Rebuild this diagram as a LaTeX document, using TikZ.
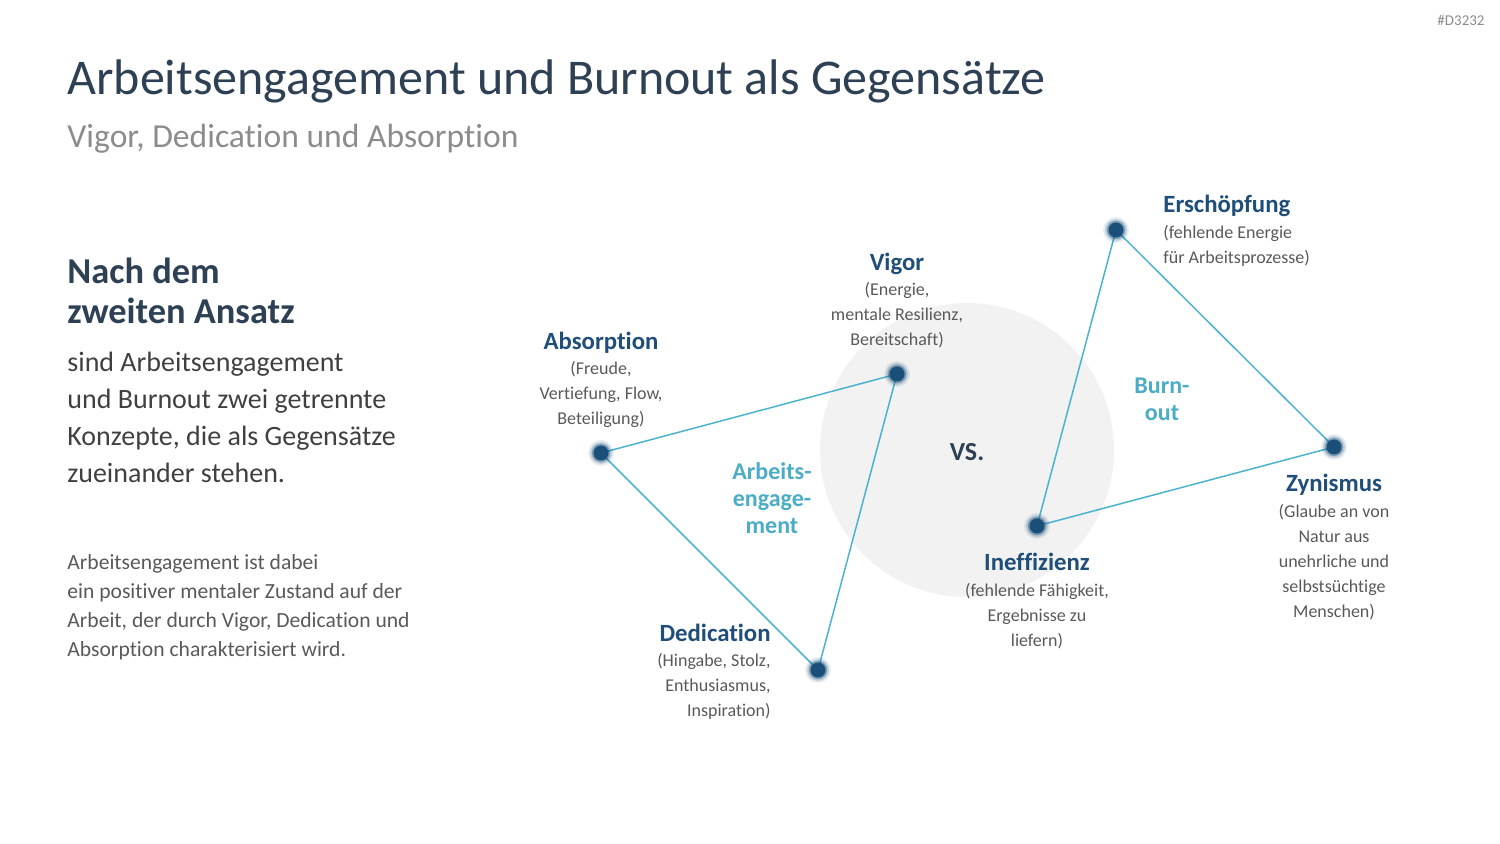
\documentclass[tikz,border=0pt]{standalone}
\usepackage{fontspec}
\setmainfont[Ligatures=NoCommon]{Carlito}
\usetikzlibrary{positioning, backgrounds}
\definecolor{titlecol}{HTML}{2E4053}
\definecolor{subcol}{HTML}{8C8C8C}
\definecolor{bodycol}{HTML}{404040}
\definecolor{smallcol}{HTML}{595959}
\definecolor{headblue}{HTML}{1F4E79}
\definecolor{descgray}{HTML}{595959}
\definecolor{accentblue}{HTML}{4BACC6}
\definecolor{linecol}{HTML}{4BB3CE}
\definecolor{dotblue}{HTML}{1A4F7A}
\definecolor{discgray}{HTML}{F2F2F2}

\begin{document}
\begin{tikzpicture}[
    x=0.5pt, y=-0.5pt,
    dot/.style={circle, fill=dotblue, minimum size=7.5pt, inner sep=0pt},
    head/.style={font=\fontsize{12.4}{14}\selectfont\bfseries, text=headblue, inner sep=0pt},
    desc/.style={font=\fontsize{9}{12.5}\selectfont, text=descgray, inner sep=0pt},
    accent/.style={font=\fontsize{12}{13.5}\selectfont\bfseries, text=accentblue, align=center, inner sep=0pt},
    link/.style={draw=linecol, line width=0.75pt}
]
\useasboundingbox (0,0) rectangle (1500,844);

% Left text
\node[anchor=center, font=\fontsize{7.5}{9}\selectfont, text=subcol] (tag) at (1461,20) {\#D3232};
\node[anchor=base west, inner sep=0pt, font=\fontsize{25}{30}\selectfont, text=titlecol] (title) at (67,95) {Arbeitsengagement und Burnout als Gegensätze};
\node[anchor=base west, inner sep=0pt, font=\fontsize{16.8}{19}\selectfont, text=subcol] (subtitle) at (67,148) {Vigor, Dedication und Absorption};
\node[anchor=north west, inner sep=0pt, align=left, font=\fontsize{18.2}{20}\selectfont\bfseries, text=titlecol] (approach) at (67,258) {Nach dem\\zweiten Ansatz};
\node[anchor=north west, inner sep=0pt, align=left, font=\fontsize{14}{18.5}\selectfont, text=bodycol] (body) at (67,352) {sind Arbeitsengagement\\und Burnout zwei getrennte\\Konzepte, die als Gegensätze\\zueinander stehen.};
\node[anchor=north west, inner sep=0pt, align=left, font=\fontsize{10.8}{14.5}\selectfont, text=smallcol] (note) at (67,554) {Arbeitsengagement ist dabei\\ein positiver mentaler Zustand auf der\\Arbeit, der durch Vigor, Dedication und\\Absorption charakterisiert wird.};

% Dots
\node[dot] (abs) at (601,453) {};
\node[dot] (vig) at (897,374) {};
\node[dot] (ded) at (818,670) {};
\node[dot] (ers) at (1116,230) {};
\node[dot] (zyn) at (1334,447) {};
\node[dot] (ine) at (1037,526) {};
\foreach \n in {abs,vig,ded,ers,zyn,ine}
  \foreach \r/\o in {6.5pt/0.1, 5.5pt/0.2, 4.6pt/0.4}
    \fill[dotblue, opacity=\o] (\n.center) circle (\r);

% Disc and connections
\begin{scope}[on background layer]
\fill[discgray] (967,450) circle (73.5pt);
\draw[link] (abs.center) -- (vig.center) -- (ded.center) -- cycle;
\draw[link] (ers.center) -- (zyn.center) -- (ine.center) -- cycle;
\end{scope}

% Labels
\node[head, anchor=base] (absH) at (601,350) {Absorption};
\node[desc, anchor=north, align=center] (absD) at (601,361) {(Freude,\\Vertiefung, Flow,\\Beteiligung)};
\node[head, anchor=base] (vigH) at (897,271) {Vigor};
\node[desc, anchor=north, align=center] (vigD) at (897,282) {(Energie,\\mentale Resilienz,\\Bereitschaft)};
\node[head, anchor=base east] (dedH) at (771,641) {Dedication};
\node[desc, anchor=north east, align=right] (dedD) at (771,653) {(Hingabe, Stolz,\\Enthusiasmus,\\Inspiration)};
\node[head, anchor=base west] (ersH) at (1163,213) {Erschöpfung};
\node[desc, anchor=north west, align=left] (ersD) at (1163,225) {(fehlende Energie\\für Arbeitsprozesse)};
\node[head, anchor=base] (zynH) at (1334,492) {Zynismus};
\node[desc, anchor=north, align=center] (zynD) at (1334,504) {(Glaube an von\\Natur aus\\unehrliche und\\selbstsüchtige\\Menschen)};
\node[head, anchor=base] (ineH) at (1037,571) {Ineffizienz};
\node[desc, anchor=north, align=center] (ineD) at (1037,583) {(fehlende Fähigkeit,\\Ergebnisse zu\\liefern)};

\node[accent, anchor=north] (engage) at (772,462) {Arbeits-\\engage-\\ment};
\node[accent, anchor=north] (burnout) at (1162,378) {Burn-\\out};
\node[anchor=base, inner sep=0pt, font=\fontsize{13}{15}\selectfont\bfseries, text=titlecol] (vs) at (967,461) {VS.};

\end{tikzpicture}
\end{document}
